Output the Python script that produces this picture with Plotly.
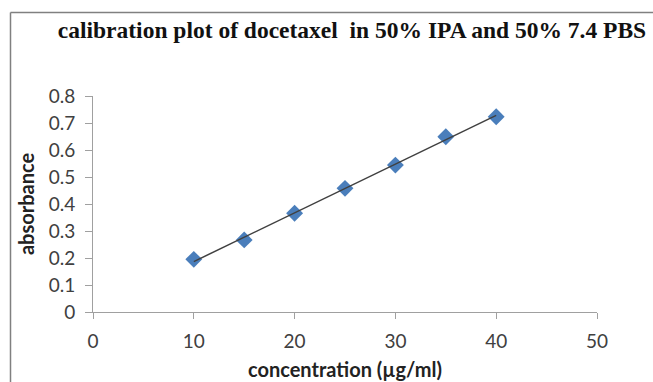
import numpy as np
import plotly.graph_objects as go

concentration = [10, 15, 20, 25, 30, 35, 40]
absorbance = [0.195, 0.267, 0.366, 0.458, 0.544, 0.649, 0.723]
x_ticks = [0, 10, 20, 30, 40, 50]
y_ticks = [0, 0.1, 0.2, 0.3, 0.4, 0.5, 0.6, 0.7, 0.8]

slope, intercept = np.polyfit(concentration, absorbance, 1)
fit_x = [min(concentration), max(concentration)]
fit_y = [slope * v + intercept for v in fit_x]

fig = go.Figure()
fig.add_trace(go.Scatter(
    x=concentration, y=absorbance, mode="markers",
    marker=dict(symbol="diamond", size=13, color="#4A7EBB",
                line=dict(width=0)),
    showlegend=False, cliponaxis=False))
fig.add_trace(go.Scatter(
    x=fit_x, y=fit_y, mode="lines",
    line=dict(color="#404040", width=1.5),
    showlegend=False))

W, H = 653, 382
L, R, T, B = 93, 56, 96, 70
pw, ph = W - L - R, H - T - B

def px_to_paper_x(px):
    return (px - L) / pw

def px_to_paper_y(py):
    return (H - B - py) / ph

fig.update_layout(
    width=W, height=H,
    margin=dict(l=L, r=R, t=T, b=B, autoexpand=False),
    paper_bgcolor="white", plot_bgcolor="white",
    font=dict(family="Lato, 'Liberation Sans', sans-serif", size=19, color="#404040"),
    title=dict(
        text="<b>calibration plot of docetaxel  in 50% IPA and 50% 7.4 PBS</b>",
        font=dict(family="'Liberation Serif', 'DejaVu Serif', serif", size=23.5, color="#111111"),
        x=px_to_paper_x(352), xref="paper", xanchor="center",
        y=1 - 30 / H, yanchor="middle", automargin=False),
    xaxis=dict(
        range=[0, 50], tickvals=x_ticks, ticks="outside", ticklen=6,
        tickcolor="#A0A0A0", showline=True, linecolor="#A0A0A0", linewidth=1,
        showgrid=False, zeroline=False, fixedrange=True, automargin=False,
        ticklabelstandoff=6,
        tickfont=dict(size=19, color="#404040"),
        title=dict(text="<b>concentration (µg/ml)</b>",
                   font=dict(size=20, color="#222222"), standoff=12)),
    yaxis=dict(
        range=[0, 0.8], tickvals=y_ticks, ticks="outside", ticklen=7,
        tickformat=".1~f",
        tickcolor="#A0A0A0", showline=True, linecolor="#A0A0A0", linewidth=1,
        showgrid=False, zeroline=False, fixedrange=True, automargin=False,
        ticklabelstandoff=6,
        tickfont=dict(size=19, color="#404040"),
        title=dict(text="<b>absorbance</b>",
                   font=dict(size=20, color="#222222"), standoff=8)),
    shapes=[
        dict(type="line", xref="paper", yref="paper",
             x0=px_to_paper_x(10.5), x1=px_to_paper_x(700),
             y0=px_to_paper_y(12.5), y1=px_to_paper_y(12.5),
             line=dict(color="#808080", width=1.5)),
        dict(type="line", xref="paper", yref="paper",
             x0=px_to_paper_x(10.5), x1=px_to_paper_x(10.5),
             y0=px_to_paper_y(12.5), y1=px_to_paper_y(420),
             line=dict(color="#808080", width=1.5)),
    ],
)

fig.write_html("out.html")
